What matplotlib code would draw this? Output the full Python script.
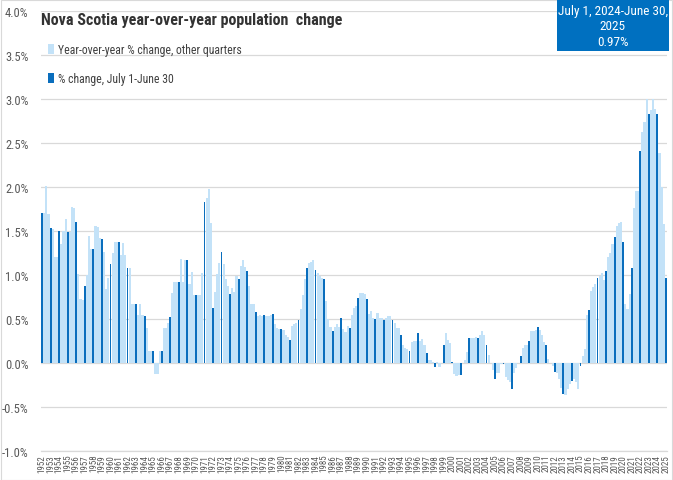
import matplotlib
matplotlib.use("Agg")
import matplotlib.pyplot as plt
from matplotlib import font_manager
from matplotlib.patches import Patch, Rectangle
import numpy as np

names = {f.name for f in font_manager.fontManager.ttflist}
NARROW = None
for cand in ["Liberation Sans Narrow", "Roboto Condensed", "Open Sans Condensed", "Noto Sans", "Liberation Sans"]:
    if cand in names:
        NARROW = cand
        break
if NARROW is None:
    NARROW = "DejaVu Sans"
plt.rcParams["font.family"] = [NARROW, "DejaVu Sans"]

# ---- data ----
years = list(range(1952, 2026))

# July 1 - June 30 year-over-year % change (dark bars), 1952..2025
annual_change = [1.70, 1.53, 1.50, 1.49, 1.60, 0.87, 1.29, 1.41, 1.12, 1.37,
                 1.08, 0.67, 0.53, 0.14, 0.14, 0.52, 0.92, 1.17, 0.77, 1.83,
                 0.63, 1.26, 0.78, 0.96, 1.04, 0.58, 0.54, 0.56, 0.39, 0.26,
                 0.49, 1.08, 1.06, 0.96, 0.36, 0.51, 0.40, 0.74, 0.73, 0.50,
                 0.49, 0.49, 0.32, 0.14, 0.34, 0.11, -0.05, 0.20, 0.01, -0.14,
                 0.28, 0.28, 0.20, -0.18, -0.01, -0.29, 0.08, 0.25, 0.41, 0.20,
                 -0.10, -0.35, -0.21, -0.03, 0.60, 0.97, 1.04, 1.43, 1.38, 1.08,
                 2.41, 2.83, 2.83, 0.97]

# Other quarters following each July 1 (light bars), 1952..2024
oct_change = [1.70, 1.52, 1.35, 1.49, 1.01, 1.00, 1.56, 1.26, 1.25, 1.23,
              1.08, 0.54, 0.40, -0.13, 0.40, 0.80, 1.18, 0.90, 0.77, 1.88,
              0.81, 1.12, 0.85, 1.10, 0.87, 0.53, 0.53, 0.44, 0.37, 0.42,
              0.61, 1.14, 1.02, 0.70, 0.41, 0.39, 0.55, 0.80, 0.56, 0.57,
              0.51, 0.45, 0.20, 0.235, 0.25, 0.03, 0.01, 0.34, -0.12, 0.00,
              0.28, 0.32, 0.09, -0.11, -0.16, -0.11, 0.17, 0.36, 0.37, 0.04,
              -0.11, -0.36, -0.18, 0.08, 0.82, 0.99, 1.20, 1.56, 0.67, 1.76,
              2.63, 2.88, 2.39]
jan_change = [2.01, 1.21, 1.50, 1.77, 0.73, 1.44, 1.55, 0.84, 1.38, 1.36,
              0.67, 0.67, 0.14, -0.13, 0.40, 0.92, 0.92, 1.03, 0.77, 1.98,
              1.01, 0.95, 0.81, 1.17, 0.67, 0.54, 0.53, 0.40, 0.32, 0.44,
              0.77, 1.15, 0.99, 0.50, 0.44, 0.35, 0.63, 0.80, 0.59, 0.51,
              0.53, 0.40, 0.17, 0.25, 0.27, 0.03, -0.04, 0.26, -0.15, 0.03,
              0.28, 0.36, 0.00, -0.11, -0.19, -0.06, 0.20, 0.36, 0.32, 0.00,
              -0.18, -0.30, -0.22, 0.16, 0.86, 1.02, 1.25, 1.59, 0.61, 1.95,
              2.74, 3.00, 2.00]
apr_change = [1.69, 1.20, 1.64, 1.76, 0.72, 1.30, 1.42, 0.97, 1.37, 1.23,
              0.67, 0.54, 0.14, 0.14, 0.45, 0.92, 1.17, 0.77, 1.02, 1.59,
              1.14, 0.87, 0.99, 1.09, 0.67, 0.53, 0.55, 0.39, 0.29, 0.46,
              0.95, 1.17, 0.97, 0.41, 0.41, 0.42, 0.65, 0.78, 0.51, 0.51,
              0.53, 0.40, 0.16, 0.25, 0.20, 0.01, 0.00, 0.23, -0.14, 0.13,
              0.30, 0.32, -0.08, -0.01, -0.22, 0.00, 0.20, 0.38, 0.24, -0.03,
              -0.28, -0.24, -0.29, 0.55, 0.90, 0.94, 1.35, 1.60, 0.78, 1.95,
              3.00, 2.89, 1.58]

latest_label = "July 1, 2024-June 30,\n2025\n0.97%"

# ---- build sequence ----
vals, kinds = [], []
for i, y in enumerate(years):
    vals.append(annual_change[i]); kinds.append("a")
    if i < len(oct_change):
        for q in (oct_change[i], jan_change[i], apr_change[i]):
            vals.append(q); kinds.append("q")
vals = np.array(vals)
pos = np.arange(len(vals))
kinds = np.array(kinds)

DARK = "#0A6EBD"
LIGHT = "#C3E2F8"
GRID = "#D9D9D9"
TXT = "#595959"

W, H = 673, 481
fig = plt.figure(figsize=(W / 100, H / 100), dpi=100)
ax = fig.add_axes([41 / W, 1 - 452 / H, (667 - 41) / W, (452 - 12) / H])

qm = kinds == "q"
am = kinds == "a"
ax.bar(pos[qm], vals[qm], width=1.0, color=LIGHT, linewidth=0, zorder=2)
ax.bar(pos[am], vals[am], width=0.85, color=DARK, linewidth=0, zorder=3)

ax.set_xlim(-0.5, len(vals) - 0.5)
ax.set_ylim(-1.0, 4.0)
yt = np.arange(-1.0, 4.01, 0.5)
ax.set_yticks(yt)
ax.set_yticklabels([f"{v:.1f}%" for v in yt], fontsize=9, color=TXT)
ax.yaxis.grid(True, color=GRID, linewidth=0.9, zorder=0)
ax.set_axisbelow(True)
ax.tick_params(axis="y", length=0, pad=9)

ax.set_xticks(pos[am])
ax.set_xticklabels([str(y) for y in years], rotation=90, fontsize=6.5, color=TXT)
ax.tick_params(axis="x", length=0, pad=2)

for s in ["top", "right", "left"]:
    ax.spines[s].set_visible(False)
ax.spines["bottom"].set_color(GRID)
ax.spines["bottom"].set_linewidth(0.9)

fig.text(41 / W, 1 - 20 / H, "Nova Scotia year-over-year population  change",
         fontsize=11.5, fontweight="bold", color="#333333", va="center", ha="left")

handles = [Patch(facecolor=LIGHT, edgecolor="none"), Patch(facecolor=DARK, edgecolor="none")]
leg = fig.legend(handles, ["Year-over-year % change, other quarters", "% change, July 1-June 30"],
                 loc="upper left", bbox_to_anchor=(40 / W, 1 - 36 / H), frameon=False,
                 fontsize=8.5, handlelength=0.45, handleheight=0.9, handletextpad=0.4,
                 labelspacing=1.35, borderpad=0.2)
for t in leg.get_texts():
    t.set_color("#404040")

fig.patches.append(Rectangle((557 / W, 1 - 52 / H), (669 - 557) / W, 52 / H,
                             transform=fig.transFigure, facecolor="#0070C0", edgecolor="none", zorder=5))
fig.text(613 / W, 1 - 27 / H, latest_label, ha="center", va="center", color="white",
         fontsize=9.5, linespacing=1.25, zorder=6)

fig.patches.append(Rectangle((0.5 / W, 0.5 / H), 1 - 1.5 / W, 1 - 1.5 / H, transform=fig.transFigure,
                             facecolor="none", edgecolor=GRID, linewidth=0.8, zorder=0))

fig.savefig("out.png", dpi=100)
